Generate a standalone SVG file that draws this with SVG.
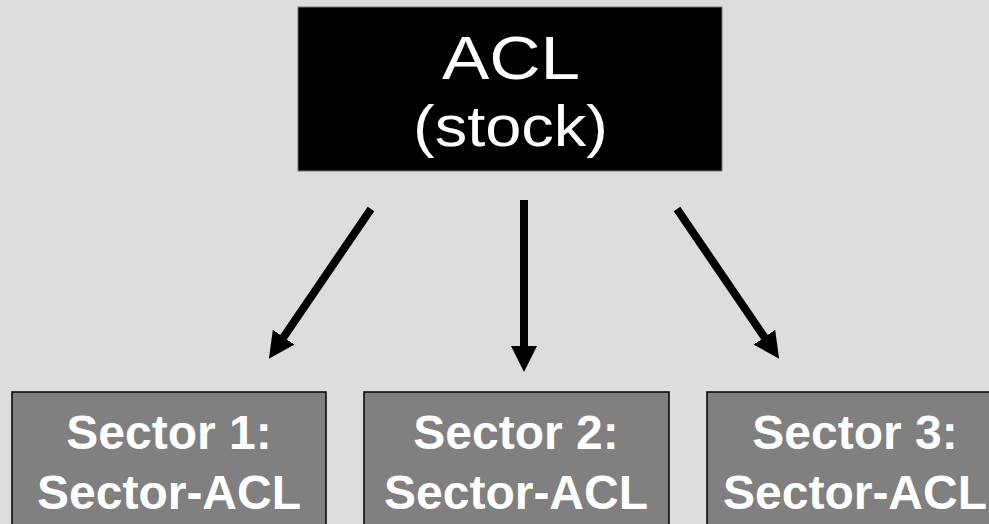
<svg xmlns="http://www.w3.org/2000/svg" width="989" height="524" viewBox="0 0 989 524">
<style>
.top{fill:#000;stroke:#777;stroke-width:1}
.sec{fill:#808080;stroke:#000;stroke-width:1.5}
.tt{font-family:"Liberation Sans",Arial,sans-serif;fill:#fff}
.st{font-family:"Liberation Sans",Arial,sans-serif;font-weight:bold;font-size:48px;fill:#fff;text-anchor:middle}
.ln{stroke:#000;stroke-width:8;fill:none}
</style>
<defs>
<marker id="ah" markerUnits="userSpaceOnUse" markerWidth="26" markerHeight="26" refX="1" refY="13" orient="auto" viewBox="0 0 26 26">
<path d="M0,0 L26,13 L0,26 Z" fill="#000"/>
</marker>
</defs>
<rect width="989" height="524" fill="#dddddd"/>
<g id="acl">
<rect class="top" x="298" y="7" width="424" height="164"/>
<text class="tt" x="442" y="79" font-size="62" textLength="138" lengthAdjust="spacingAndGlyphs">ACL</text>
<text class="tt" x="413" y="146" font-size="57" textLength="195" lengthAdjust="spacingAndGlyphs">(stock)</text>
</g>
<g id="connectors">
<line class="ln" x1="371" y1="209" x2="283" y2="338" marker-end="url(#ah)"/>
<line class="ln" x1="524" y1="200" x2="524" y2="347" marker-end="url(#ah)"/>
<line class="ln" x1="677" y1="209" x2="765" y2="338" marker-end="url(#ah)"/>
</g>
<g id="sector1">
<rect class="sec" x="12" y="392" width="314" height="150"/>
<text class="st" x="169" y="449">Sector 1:</text>
<text class="st" x="169" y="509">Sector-ACL</text>
</g>
<g id="sector2">
<rect class="sec" x="364" y="392" width="305" height="150"/>
<text class="st" x="516" y="449">Sector 2:</text>
<text class="st" x="516" y="509">Sector-ACL</text>
</g>
<g id="sector3">
<rect class="sec" x="707" y="392" width="314" height="150"/>
<text class="st" x="855" y="449">Sector 3:</text>
<text class="st" x="855" y="509">Sector-ACL</text>
</g>
</svg>
